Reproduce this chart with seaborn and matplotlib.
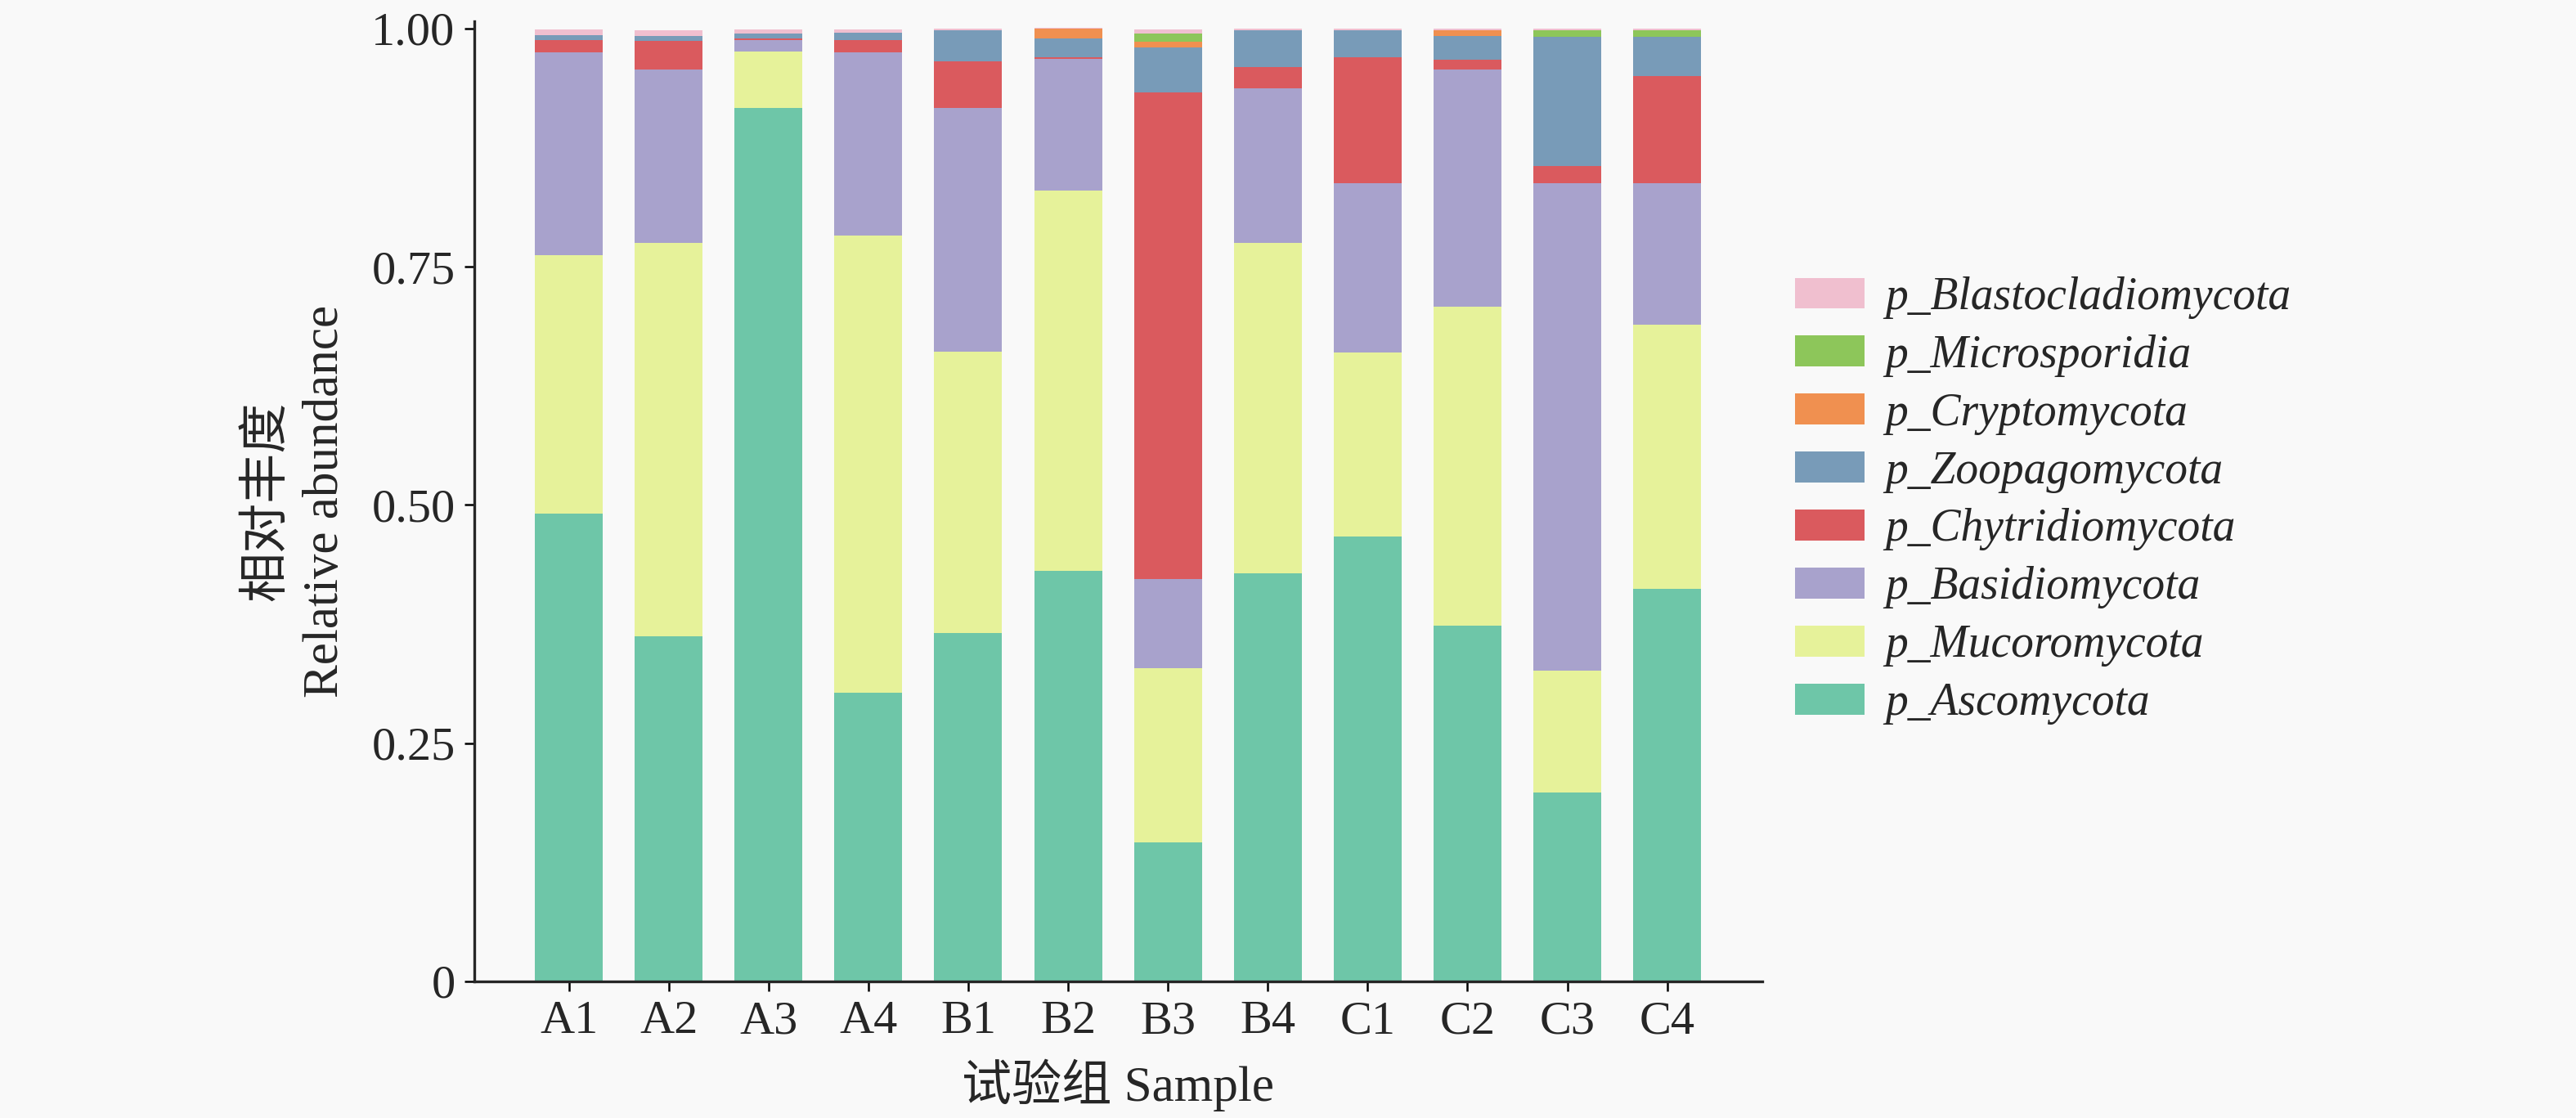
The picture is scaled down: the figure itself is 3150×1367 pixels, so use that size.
import matplotlib.pyplot as plt
from matplotlib.patches import Patch
import numpy as np
import seaborn as sns

# samples and phylum relative abundance
samples = ['A1', 'A2', 'A3', 'A4', 'B1', 'B2', 'B3', 'B4', 'C1', 'C2', 'C3', 'C4']

ascomycota = [0.491, 0.362, 0.917, 0.303, 0.366, 0.431, 0.146, 0.428, 0.467, 0.373, 0.198, 0.412]
mucoromycota = [0.271, 0.413, 0.059, 0.480, 0.295, 0.399, 0.183, 0.347, 0.193, 0.335, 0.128, 0.277]
basidiomycota = [0.213, 0.182, 0.012, 0.192, 0.256, 0.138, 0.093, 0.162, 0.178, 0.249, 0.512, 0.149]
chytridiomycota = [0.013, 0.030, 0.002, 0.013, 0.049, 0.002, 0.511, 0.023, 0.132, 0.010, 0.018, 0.112]
zoopagomycota = [0.005, 0.005, 0.005, 0.008, 0.032, 0.020, 0.047, 0.038, 0.028, 0.025, 0.135, 0.041]
cryptomycota = [0.000, 0.000, 0.000, 0.000, 0.000, 0.010, 0.006, 0.000, 0.000, 0.006, 0.000, 0.000]
microsporidia = [0.000, 0.000, 0.000, 0.000, 0.000, 0.000, 0.009, 0.000, 0.000, 0.000, 0.007, 0.007]
blastocladiomycota = [0.006, 0.006, 0.004, 0.003, 0.002, 0.001, 0.004, 0.002, 0.002, 0.002, 0.002, 0.002]

phyla = ['p_Ascomycota', 'p_Mucoromycota', 'p_Basidiomycota', 'p_Chytridiomycota',
         'p_Zoopagomycota', 'p_Cryptomycota', 'p_Microsporidia', 'p_Blastocladiomycota']
values = [ascomycota, mucoromycota, basidiomycota, chytridiomycota,
          zoopagomycota, cryptomycota, microsporidia, blastocladiomycota]
colors = ['#6ec6a8', '#e6f29a', '#a8a2cc', '#da5a5e',
          '#789bb8', '#f09050', '#8dc65a', '#f0bfcf']

bg = '#f9f9f9'
sns.set_style('ticks')
plt.rcParams['font.family'] = ['Liberation Serif', 'Noto Sans CJK SC']
plt.rcParams['axes.linewidth'] = 2.4

fig = plt.figure(figsize=(31.5, 13.67), dpi=100, facecolor=bg)
ax = fig.add_axes([0.184, 0.1222, 0.5, 0.8588])
ax.set_facecolor(bg)

# stacked bars: draw cumulative sums from the top layer down
cum = np.cumsum(np.array(values), axis=0)
for i in range(len(phyla) - 1, -1, -1):
    sns.barplot(x=samples, y=cum[i], order=samples, color=colors[i], saturation=1,
                width=0.68, errorbar=None, linewidth=0, ax=ax)

ax.set_xlim(-0.95, 11.95)
ax.set_ylim(0, 1.0077)
ax.set_yticks([0, 0.25, 0.5, 0.75, 1.0])
ax.set_yticklabels(['0', '0.25', '0.50', '0.75', '1.00'])
ax.tick_params(axis='both', labelsize=42, length=8.6, width=1.8, pad=8, color='black')
sns.despine(ax=ax)

ax.set_xlabel('试验组 Sample', fontsize=44)
ax.xaxis.label.set_va('center')
ax.xaxis.set_label_coords(0.5, -0.108)
ax.set_ylabel('相对丰度\nRelative abundance', fontsize=44, linespacing=1.35)
ax.yaxis.label.set_va('center')
ax.yaxis.label.set_ha('center')
ax.yaxis.set_label_coords(-0.138, 0.5)

handles = [Patch(facecolor=colors[i], edgecolor='none', label=phyla[i])
           for i in range(len(phyla) - 1, -1, -1)]
fig.legend(handles=handles, loc='center left', bbox_to_anchor=(2195 / 3150, 1 - 612 / 1367),
           frameon=False, borderpad=0, borderaxespad=0, handlelength=1.53, handleheight=0.67,
           handletextpad=0.45, labelspacing=0.34,
           prop={'family': 'Liberation Serif', 'style': 'italic', 'size': 40})

fig.savefig('out.png', dpi=100, facecolor=bg)
